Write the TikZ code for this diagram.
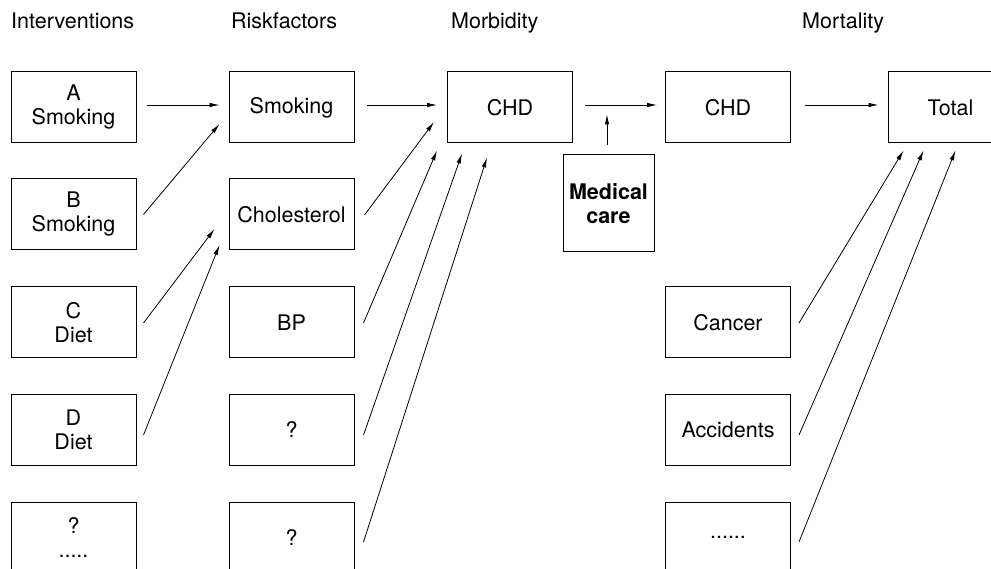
\documentclass[tikz,border=0pt]{standalone}
\usepackage{fontspec}
\setmainfont{TeX Gyre Heros}
\usepackage{tikz}
\usetikzlibrary{arrows.meta,calc}

\tikzset{
  box/.style={draw, line width=1pt, minimum width=125pt, minimum height=71pt, inner sep=0pt, align=center},
  head/.style={anchor=base west, inner sep=0pt},
  link/.style={line width=0.8pt, -{Latex[length=10pt,width=4.5pt]}}
}

\begin{document}
\begin{tikzpicture}[x=1pt, y=-1pt, font=\fontsize{21.5}{24}\selectfont]
    \useasboundingbox (0,0) rectangle (991,569);
    \clip (0,0) rectangle (991,569);
    \node[head] (hInt) at (11,29) {Interventions};
    \node[head] (hRisk) at (231,29) {Riskfactors};
    \node[head] (hMorb) at (451,29) {Morbidity};
    \node[head] (hMort) at (802,29) {Mortality};
    \node[box] (iA) at (73.5,107.5) {A\\Smoking};
    \node[box] (iB) at (73.5,214.5) {B\\Smoking};
    \node[box] (iC) at (73.5,322.5) {C\\Diet};
    \node[box] (iD) at (73.5,430) {D\\Diet};
    \node[box] (iE) at (73.5,537.5) {?\\.....};
    \node[box] (rSmok) at (291.5,107.5) {Smoking};
    \node[box] (rChol) at (291.5,214.5) {Cholesterol};
    \node[box] (rBP) at (291.5,322.5) {BP};
    \node[box] (rQa) at (291.5,430) {?};
    \node[box] (rQb) at (291.5,537.5) {?};
    \node[box] (morbCHD) at (510,107.5) {CHD};
    \node[box, minimum width=91pt, minimum height=97pt, font=\fontsize{21.5}{24}\selectfont\bfseries] (care) at (608.5,203.5) {Medical\\care};
    \node[box] (mortCHD) at (728,107.5) {CHD};
    \node[box] (total) at (950.5,107.5) {Total};
    \node[box] (cancer) at (728,322.5) {Cancer};
    \node[box] (accid) at (728,430) {Accidents};
    \node[box] (other) at (728,537.5) {......};
    \draw[link] ($(iA.east)+(10,-2.5)$) -- ($(rSmok.west)+(-9,-2.5)$);
    \draw[link] ($(iB.east)+(7,0)$) -- ($(rSmok.west)+(-9,16.5)$);
    \draw[link] ($(iC.east)+(7,0.5)$) -- ($(rChol.west)+(-14,14.5)$);
    \draw[link] ($(iD.east)+(7,5)$) -- ($(rChol.west)+(-9,30.5)$);
    \draw[link] ($(rSmok.east)+(12,-2.5)$) -- ($(morbCHD.west)+(-10,-2.5)$);
    \draw[link] ($(rChol.east)+(10,0.5)$) -- ($(morbCHD.west)+(-13,14.5)$);
    \draw[link] ($(rBP.east)+(9,0.5)$) -- ($(morbCHD.south west)+(-10,7)$);
    \draw[link] ($(rQa.east)+(9,5)$) -- ($(morbCHD.south west)+(15,10)$);
    \draw[link] ($(rQb.east)+(9,4.5)$) -- ($(morbCHD.south west)+(40,14)$);
    \draw[link] ($(morbCHD.east)+(12,-2.5)$) -- ($(mortCHD.west)+(-8,-2.5)$);
    \draw[link] ($(care.north)+(-1.5,-9)$) -- ($(care.north)+(-1.5,-40)$);
    \draw[link] ($(mortCHD.east)+(14,-2.5)$) -- ($(total.west)+(-9,-2.5)$);
    \draw[link] ($(cancer.east)+(8,0.5)$) -- ($(total.south west)+(16,7)$);
    \draw[link] ($(accid.east)+(8,5)$) -- ($(total.south west)+(36,7)$);
    \draw[link] ($(other.east)+(8,4.5)$) -- ($(total.south west)+(68,7)$);
\end{tikzpicture}
\end{document}
